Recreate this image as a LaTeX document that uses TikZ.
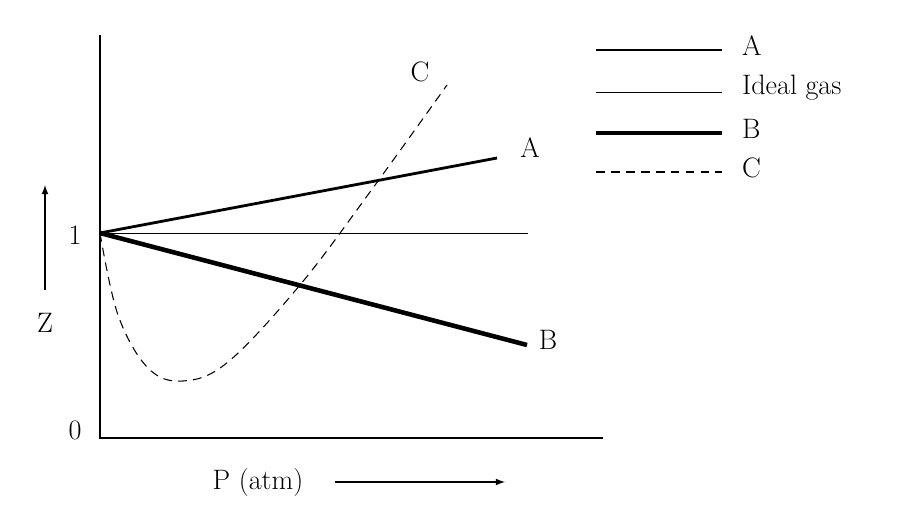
\documentclass[tikz,border=0pt]{standalone}
\usetikzlibrary{positioning}
\begin{document}
\begin{tikzpicture}[x=0.02cm,y=-0.02cm,
    lbl/.style={font=\fontsize{16}{18}\selectfont,inner sep=1pt},
    lineA/.style={line width=1.6pt},
    lineI/.style={line width=0.5pt},
    lineB/.style={line width=2.6pt},
    lineC/.style={line width=0.6pt,dash pattern=on 5pt off 3.5pt}]
    \useasboundingbox (0,0) rectangle (900,510);
    % axes
    \coordinate (o) at (100,438);
    \coordinate (ytop) at (100,35);
    \coordinate (xend) at (603,438);
    \draw[line width=0.8pt] (ytop) -- (o) -- (xend);
    \node[lbl] (zero) at (75,430) {0};
    \node[lbl] (one) at (75,235) {1};
    \node[lbl] (Z) at (45,323) {Z};
    \coordinate (za) at (45,290);
    \coordinate (zb) at (45,185);
    \draw[line width=0.8pt,-latex] (za) -- (zb);
    \node[lbl] (P) at (258,482) {P (atm)};
    \coordinate (pa) at (335,482);
    \coordinate (pb) at (505,482);
    \draw[line width=0.8pt,-latex] (pa) -- (pb);
    % curves
    \coordinate (s) at (100,233);
    \coordinate (iend) at (528,233);
    \coordinate (aend) at (497,158);
    \coordinate (bend) at (527,345);
    \draw[lineI] (s) -- (iend);
    \draw[lineA] (s) -- (aend);
    \draw[lineB] (s) -- (bend);
    \draw[lineC] plot[smooth,tension=0.6] coordinates
        {(100,233) (118,315) (148,368) (183,381) (228,362) (300,285) (370,192) (447,85)};
    \node[lbl] (la) at (530,148) {A};
    \node[lbl] (lb) at (548,340) {B};
    \node[lbl] (lc) at (420,72) {C};
    % legend
    \foreach \y/\st/\t in {50/lineA/A, 92/lineI/Ideal gas, 133/lineB/B, 172/lineC/C}{
        \draw[\st] (596,\y) -- (722,\y);
        \node[lbl,anchor=west] at (740,\y-4) {\t};
    }
\end{tikzpicture}
\end{document}
